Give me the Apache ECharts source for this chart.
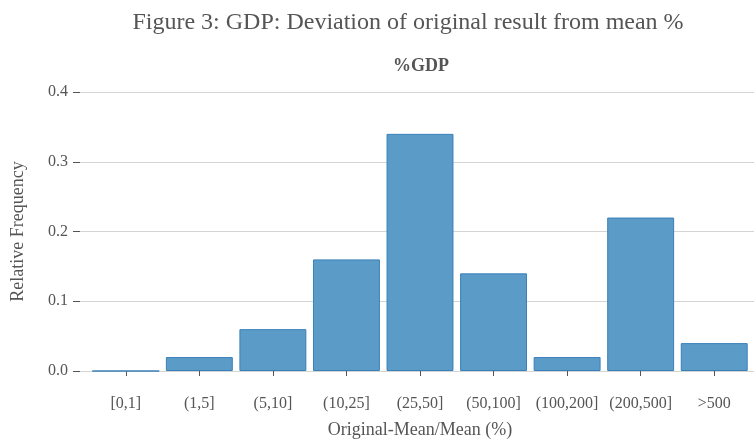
<!DOCTYPE html>
<html>
<head>
<meta charset="utf-8">
<script src="https://cdn.jsdelivr.net/npm/echarts@6/dist/echarts.min.js"></script>
<style>html,body{margin:0;padding:0;background:#fff;}#chart{width:754px;height:440px;}</style>
</head>
<body>
<div id="chart"></div>
<script>
const categories = ['[0,1]', '(1,5]', '(5,10]', '(10,25]', '(25,50]', '(50,100]', '(100,200]', '(200,500]', '>500'];
const relFreq = [0.0, 0.02, 0.06, 0.16, 0.34, 0.14, 0.02, 0.22, 0.04];
const yTicks = [0.0, 0.1, 0.2, 0.3, 0.4];

const FONT = '"Liberation Serif", "DejaVu Serif", serif';
const TXT = '#555555';
const chart = echarts.init(document.getElementById('chart'), null, {renderer: 'canvas'});
chart.setOption({
  backgroundColor: '#ffffff',
  animation: false,
  title: [
    {text: 'Figure 3: GDP: Deviation of original result from mean %', left: 403, top: 6, textAlign: 'center',
     textStyle: {fontFamily: FONT, fontSize: 24, fontWeight: 'normal', color: TXT}},
    {text: '%GDP', left: 416, top: 52, textAlign: 'center',
     textStyle: {fontFamily: FONT, fontSize: 18, fontWeight: 'bold', color: TXT}}
  ],
  grid: [
    {left: 80, right: 0, top: 92, height: 279, containLabel: false, outerBoundsMode: 'none'},
    {left: 89, width: 662, top: 92, height: 279, containLabel: false, outerBoundsMode: 'none'}
  ],
  xAxis: [
    {type: 'value', gridIndex: 0, show: false},
    {type: 'category', gridIndex: 1, data: categories, offset: 14,
     axisLine: {show: false},
     axisTick: {show: true, length: 5, alignWithLabel: true, lineStyle: {color: '#555', width: 1}},
     axisLabel: {fontFamily: FONT, fontSize: 16, color: TXT, margin: 11, interval: 0},
     name: 'Original-Mean/Mean (%)', nameLocation: 'middle', nameGap: 36,
     nameTextStyle: {fontFamily: FONT, fontSize: 18, color: TXT}}
  ],
  yAxis: [
    {type: 'value', gridIndex: 0, min: 0, max: 0.4, interval: 0.1,
     axisLine: {show: false},
     axisTick: {show: true, length: 7, lineStyle: {color: '#555', width: 1}},
     axisLabel: {fontFamily: FONT, fontSize: 16, color: TXT, margin: 12,
       formatter: v => v.toFixed(1)},
     splitLine: {show: true, lineStyle: {color: '#d4d4d4', width: 1}},
     name: 'Relative Frequency', nameLocation: 'middle', nameGap: 53, nameRotate: 90,
     nameTextStyle: {fontFamily: FONT, fontSize: 18, color: TXT}},
    {type: 'value', gridIndex: 1, min: 0, max: 0.4, show: false, splitLine: {show: false}}
  ],
  series: [{
    type: 'bar', xAxisIndex: 1, yAxisIndex: 1, data: relFreq,
    barCategoryGap: '9%',
    itemStyle: {color: '#5b9bc8', borderColor: '#3a80b8', borderWidth: 1}
  }]
});
</script>
</body>
</html>
